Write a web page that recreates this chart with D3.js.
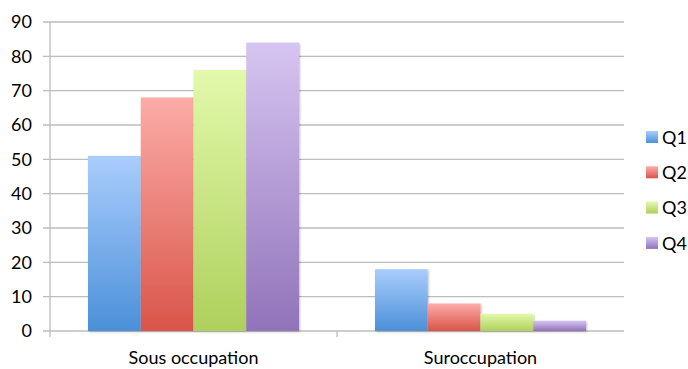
<!DOCTYPE html>
<html><head><meta charset="utf-8">
<script src="https://cdn.jsdelivr.net/npm/d3@7"></script>
<style>body{margin:0;background:#fff}svg{display:block}</style>
</head><body>
<svg id="c" width="688" height="369"></svg>
<script>
const categories = ["Sous occupation", "Suroccupation"];
const seriesNames = ["Q1", "Q2", "Q3", "Q4"];
const Q1 = [51, 18];
const Q2 = [68, 8];
const Q3 = [76, 5];
const Q4 = [84, 3];
const seriesValues = [Q1, Q2, Q3, Q4];
const yTicks = [0, 10, 20, 30, 40, 50, 60, 70, 80, 90];

const colors = [
  ["#aacdfc", "#4b90d9"],
  ["#fcaca8", "#d95549"],
  ["#e2f9ab", "#aed05c"],
  ["#d6c5f1", "#9173b9"]
];

const svg = d3.select("#c");
const font = "Lato, 'Open Sans', sans-serif";
const plotLeft = 50, plotRight = 624, plotTop = 22, plotBottom = 331;

const x0 = d3.scaleBand().domain(categories).range([plotLeft, plotRight]).paddingInner(0).paddingOuter(0);
const x1 = d3.scaleBand().domain(seriesNames).range([38, x0.bandwidth() - 38]).padding(0);
const y = d3.scaleLinear().domain([0, 90]).range([plotBottom, plotTop]);

const defs = svg.append("defs");
colors.forEach((c, i) => {
  const g = defs.append("linearGradient").attr("id", "g" + i).attr("x1", 0).attr("y1", 0).attr("x2", 0).attr("y2", 1);
  g.append("stop").attr("offset", "0%").attr("stop-color", c[0]);
  g.append("stop").attr("offset", "100%").attr("stop-color", c[1]);
});
const f = defs.append("filter").attr("id", "sh").attr("x", "-10%").attr("y", "-10%").attr("width", "130%").attr("height", "130%");
f.append("feDropShadow").attr("dx", 1).attr("dy", 1).attr("stdDeviation", 1).attr("flood-color", "#000").attr("flood-opacity", 0.25);

// gridlines
svg.append("g").selectAll("line").data(yTicks).join("line")
  .attr("x1", plotLeft - 7).attr("x2", plotRight)
  .attr("y1", d => y(d)).attr("y2", d => y(d))
  .attr("stroke", "#bdbdbd").attr("stroke-width", 1.3);

// y axis line
svg.append("line").attr("x1", plotLeft).attr("x2", plotLeft).attr("y1", plotTop).attr("y2", plotBottom + 6)
  .attr("stroke", "#bdbdbd").attr("stroke-width", 1.3);
// category divider ticks
svg.append("g").selectAll("line").data(categories.slice(1)).join("line")
  .attr("x1", d => x0(d)).attr("x2", d => x0(d)).attr("y1", plotBottom).attr("y2", plotBottom + 6)
  .attr("stroke", "#bdbdbd").attr("stroke-width", 1.3);

// y tick labels
svg.append("g").selectAll("text").data(yTicks).join("text")
  .attr("x", 32).attr("y", d => y(d)).attr("dy", "0.35em")
  .attr("text-anchor", "end").attr("font-family", font).attr("font-size", 18).attr("fill", "#000")
  .text(d => d);

// bars
const groups = svg.append("g").selectAll("g").data(categories).join("g")
  .attr("transform", d => `translate(${x0(d)},0)`);
groups.selectAll("rect").data((d, ci) => seriesNames.map((s, si) => ({s, si, v: seriesValues[si][ci]}))).join("rect")
  .attr("x", d => x1(d.s)).attr("width", x1.bandwidth())
  .attr("y", d => y(d.v)).attr("height", d => y(0) - y(d.v))
  .attr("fill", d => `url(#g${d.si})`).attr("filter", "url(#sh)");

// category labels
svg.append("g").selectAll("text").data(categories).join("text")
  .attr("x", d => x0(d) + x0.bandwidth() / 2).attr("y", 364)
  .attr("text-anchor", "middle").attr("font-family", font).attr("font-size", 18).attr("fill", "#000")
  .text(d => d);

// legend
const lg = svg.append("g").selectAll("g").data(seriesNames).join("g")
  .attr("transform", (d, i) => `translate(646,${131 + i * 35.3})`);
lg.append("rect").attr("width", 12).attr("height", 12).attr("fill", (d, i) => `url(#g${i})`);
lg.append("text").attr("x", 16).attr("y", 6).attr("dy", "0.38em")
  .attr("font-family", font).attr("font-size", 18).attr("fill", "#000").text(d => d);
</script>
</body></html>
